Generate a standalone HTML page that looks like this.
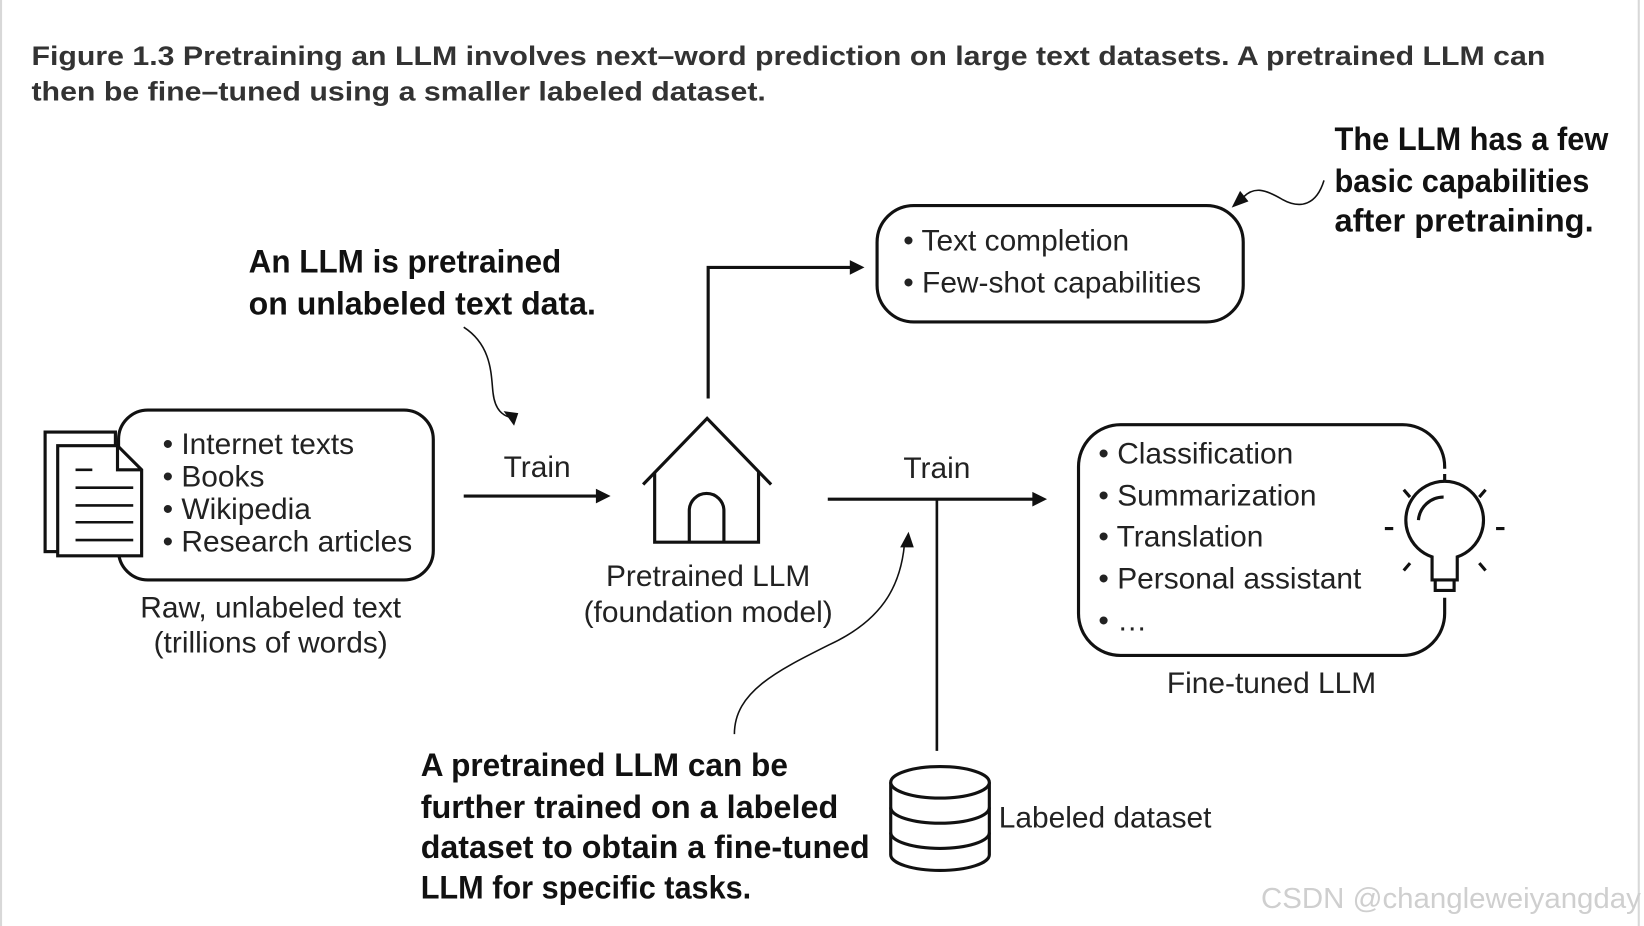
<!DOCTYPE html>
<html><head><meta charset="utf-8"><style>
html,body{margin:0;padding:0;background:#fff;width:1644px;height:926px;overflow:hidden}
svg{display:block}
.t{font-family:"Liberation Sans",sans-serif;fill:#222}
.b{font-family:"Liberation Sans",sans-serif;font-weight:bold;fill:#111}
</style></head><body>
<svg width="1644" height="926" viewBox="0 0 1567 883" preserveAspectRatio="none" xmlns="http://www.w3.org/2000/svg">
<rect x="1" y="-12" width="1561" height="905" rx="10" fill="#fff" stroke="#d8d8d8" stroke-width="2"/>
<g class="t" style="font-weight:bold;fill:#333" font-size="26">
<text x="30" y="62" textLength="1443" lengthAdjust="spacingAndGlyphs">Figure 1.3 Pretraining an LLM involves next–word prediction on large text datasets. A pretrained LLM can</text>
<text x="30" y="96" textLength="700" lengthAdjust="spacingAndGlyphs">then be fine–tuned using a smaller labeled dataset.</text>
</g>
<g class="b" font-size="31">
<text x="237" y="260" textLength="298" lengthAdjust="spacingAndGlyphs">An LLM is pretrained</text>
<text x="237" y="300" textLength="331" lengthAdjust="spacingAndGlyphs">on unlabeled text data.</text>
<text x="1272" y="143" textLength="261" lengthAdjust="spacingAndGlyphs">The LLM has a few</text>
<text x="1272" y="183" textLength="243" lengthAdjust="spacingAndGlyphs">basic capabilities</text>
<text x="1272" y="221" textLength="247" lengthAdjust="spacingAndGlyphs">after pretraining.</text>
<text x="401" y="740" textLength="350" lengthAdjust="spacingAndGlyphs">A pretrained LLM can be</text>
<text x="401" y="780" textLength="398" lengthAdjust="spacingAndGlyphs">further trained on a labeled</text>
<text x="401" y="818" textLength="428" lengthAdjust="spacingAndGlyphs">dataset to obtain a fine-tuned</text>
<text x="401" y="857" textLength="315" lengthAdjust="spacingAndGlyphs">LLM for specific tasks.</text>
</g>
<g fill="none" stroke="#111" stroke-width="3">
<rect x="113" y="391" width="300" height="162" rx="28" fill="#fff"/>
<rect x="43" y="412" width="67" height="114" fill="#fff"/>
<path d="M55 425 H112 L135 448 V530 H55 Z" fill="#fff"/>
<path d="M112 425 V448 H135"/>
<path d="M72 448 H88 M72 465 H127 M72 482 H127 M72 498 H127 M72 515 H127" stroke-width="2.5"/>
<path d="M442 473 H570"/>
<path d="M442 312 C470 330 468 360 470 375 C472 392 480 396 486 398" stroke-width="1.5"/>
<path d="M613 462 L674 399 L735 462" />
<path d="M624 450 V517 H723 V450"/>
<path d="M657 517 V487 A16.5 16.5 0 0 1 690 487 V517"/>
<path d="M675 380 V255 H812"/>
<rect x="836" y="196" width="349" height="111" rx="35"/>
<path d="M1262 172 C1255 195 1240 200 1222 190 C1205 180 1195 178 1185 188" stroke-width="1.5"/>
<path d="M789 476 H986"/>
<path d="M893 476 V716" stroke-width="2.5"/>
<path d="M700 700 C700 660 740 640 790 615 C840 592 858 560 862 520" stroke-width="1.5"/>
<path d="M849 746 V815 A47 15 0 0 0 943 815 V746"/>
<ellipse cx="896" cy="746" rx="47" ry="15" fill="#fff"/>
<path d="M849 770 A47 15 0 0 0 943 770 M849 794 A47 15 0 0 0 943 794"/>
<path d="M1377 447 V445 A40 40 0 0 0 1337 405 H1068 A40 40 0 0 0 1028 445 V585 A40 40 0 0 0 1068 625 H1337 A40 40 0 0 0 1377 585 V570"/>
<path d="M1365 531 A37 37 0 1 1 1389 531 V553 H1365 Z"/>
<path d="M1368 553 V563 H1386 V553"/>
<path d="M1352 496 A24 24 0 0 1 1376 474" stroke-width="3"/>
<path d="M1377 452 V460 M1320 504 H1328 M1426 504 H1434 M1338 467 L1344 474 M1416 467 L1410 474 M1338 544 L1344 537 M1416 544 L1410 537"/>
</g>
<g fill="#111">
<path d="M582 473 L568 466 L568 480 Z"/>
<path d="M490 406 L480 392 L494 394 Z"/>
<path d="M824 255 L810 248 L810 262 Z"/>
<path d="M1174 198 L1182 182 L1190 192 Z"/>
<path d="M998 476 L984 469 L984 483 Z"/>
<path d="M866 507 L858 522 L871 522 Z"/>
</g>
<g class="t" font-size="28.5">
<text x="155" y="433">• Internet texts</text>
<text x="155" y="464">• Books</text>
<text x="155" y="495">• Wikipedia</text>
<text x="155" y="526">• Research articles</text>
<text x="258" y="589" text-anchor="middle">Raw, unlabeled text</text>
<text x="258" y="622" text-anchor="middle">(trillions of words)</text>
<text x="512" y="455" text-anchor="middle">Train</text>
<text x="893" y="456" text-anchor="middle">Train</text>
<text x="675" y="559" text-anchor="middle">Pretrained LLM</text>
<text x="675" y="593" text-anchor="middle">(foundation model)</text>
<text x="861" y="239">• Text completion</text>
<text x="861" y="279">• Few-shot capabilities</text>
<text x="1047" y="442">• Classification</text>
<text x="1047" y="482">• Summarization</text>
<text x="1047" y="521">• Translation</text>
<text x="1047" y="561">• Personal assistant</text>
<text x="1047" y="601">• …</text>
<text x="1212" y="661" text-anchor="middle">Fine-tuned LLM</text>
<text x="952" y="789">Labeled dataset</text>
</g>
<text x="1202" y="866" font-family="Liberation Sans,sans-serif" font-size="27" fill="#cfcfcf" textLength="362" lengthAdjust="spacingAndGlyphs">CSDN @changleweiyangday</text>
</svg>
</body></html>
